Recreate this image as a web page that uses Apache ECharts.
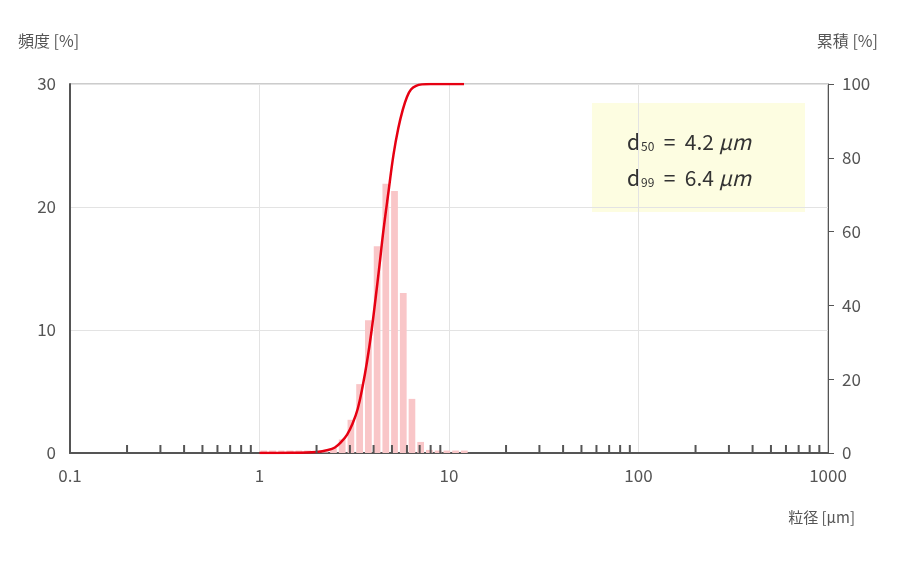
<!DOCTYPE html><html><head><meta charset="utf-8">
<script src="https://cdn.jsdelivr.net/npm/echarts@6/dist/echarts.min.js"></script>
<style>html,body{margin:0;background:#fff}#c{width:900px;height:562px}</style></head><body><div id="c"></div>
<script>
const binEdges=[1,1.11,1.24,1.37,1.53,1.70,1.89,2.10,2.33,2.59,2.88,3.20,3.56,3.96,4.40,4.89,5.44,6.05,6.72,7.47,8.31,9.24,10.27,11.42,12.7];
const freq=[0.2,0.2,0.2,0.2,0.2,0.2,0.1,0.05,0.4,1.1,2.7,5.6,10.8,16.8,21.9,21.3,13.0,4.4,0.9,0.25,0.2,0.2,0.2,0.2];
const cumX=[1,1.5,2,2.3,2.5,2.7,2.9,3.1,3.3,3.5,3.7,3.9,4.1,4.3,4.5,4.8,5.1,5.4,5.7,6.0,6.3,6.7,7.2,8,12];
const cumY=[0,0.05,0.3,0.8,1.5,3,5,8,12,18,25,33,42,51,60,71,81,88,93,96.5,98.5,99.5,99.9,100,100];
const minorTicks=[0.2,0.3,0.4,0.5,0.6,0.7,0.8,0.9,2,3,4,5,6,7,8,9,20,30,40,50,60,70,80,90,200,300,400,500,600,700,800,900];
const leftTicks=[0,10,20,30], rightTicks=[0,20,40,60,80,100];
const font='"Noto Sans CJK JP","Noto Sans",sans-serif';
const c=echarts.init(document.getElementById('c'));
c.setOption({animation:false,
grid:{left:70,right:72,top:84,bottom:109,show:true,borderColor:'#999',borderWidth:1},
xAxis:{type:'log',min:0.1,max:1000,logBase:10,axisLine:{lineStyle:{color:'#555',width:2}},axisTick:{show:false},
 axisLabel:{color:'#555',fontSize:17,fontFamily:font,margin:14,formatter:v=>String(v)},
 splitLine:{show:true,lineStyle:{color:'#e3e3e3'}}},
yAxis:[{type:'value',min:0,max:30,interval:10,axisLine:{show:true,lineStyle:{color:'#555',width:2}},axisTick:{show:false},
 axisLabel:{color:'#555',fontSize:17,fontFamily:font,margin:14},splitLine:{lineStyle:{color:'#e3e3e3'}}},
 {type:'value',min:0,max:100,interval:20,position:'right',axisLine:{show:true,lineStyle:{color:'#555'}},
 axisTick:{show:true,length:6,lineStyle:{color:'#555'}},axisLabel:{color:'#555',fontSize:17,fontFamily:font,margin:14},splitLine:{show:false}}],
series:[
{type:'custom',yAxisIndex:0,data:freq.map((v,i)=>[binEdges[i],binEdges[i+1],v]),
 renderItem:(p,api)=>{const a=api.coord([api.value(0),api.value(2)]),b=api.coord([api.value(1),0]);
  return {type:'rect',shape:{x:a[0]+1,y:a[1],width:b[0]-a[0]-2,height:b[1]-a[1]},style:{fill:'#f9c6c8'}};},z:2},
{type:'custom',yAxisIndex:0,data:minorTicks.map(v=>[v]),
 renderItem:(p,api)=>{const a=api.coord([api.value(0),0]);
  return {type:'line',shape:{x1:a[0],y1:a[1],x2:a[0],y2:a[1]-8},style:{stroke:'#555',lineWidth:2}};},z:5},
{type:'line',yAxisIndex:1,data:cumX.map((x,i)=>[x,cumY[i]]),smooth:0.4,showSymbol:false,lineStyle:{color:'#e60012',width:2.5},z:4}
],
graphic:[
{type:'text',left:18,top:33,style:{text:'頻度 [%]',fill:'#555',font:'16px '+font}},
{type:'text',right:22,top:33,style:{text:'累積 [%]',fill:'#555',font:'16px '+font}},
{type:'text',right:45,top:510,style:{text:'粒径 [μm]',fill:'#555',font:'15px '+font}},
{type:'rect',left:592,top:103,shape:{width:213,height:109},style:{fill:'#fdfde1'}},
{type:'text',left:627,top:124,style:{rich:{n:{fontSize:21,fontFamily:font,fill:'#333'},s:{fontSize:12,fontFamily:font,fill:'#333',padding:[9,0,0,1]},i:{fontSize:21,fontStyle:'italic',fontFamily:font,fill:'#333'}},
 text:'{n|d}{s|50}{n|  =  4.2 }{i|μm}\n{n|d}{s|99}{n|  =  6.4 }{i|μm}',lineHeight:36}}
]});
</script></body></html>
